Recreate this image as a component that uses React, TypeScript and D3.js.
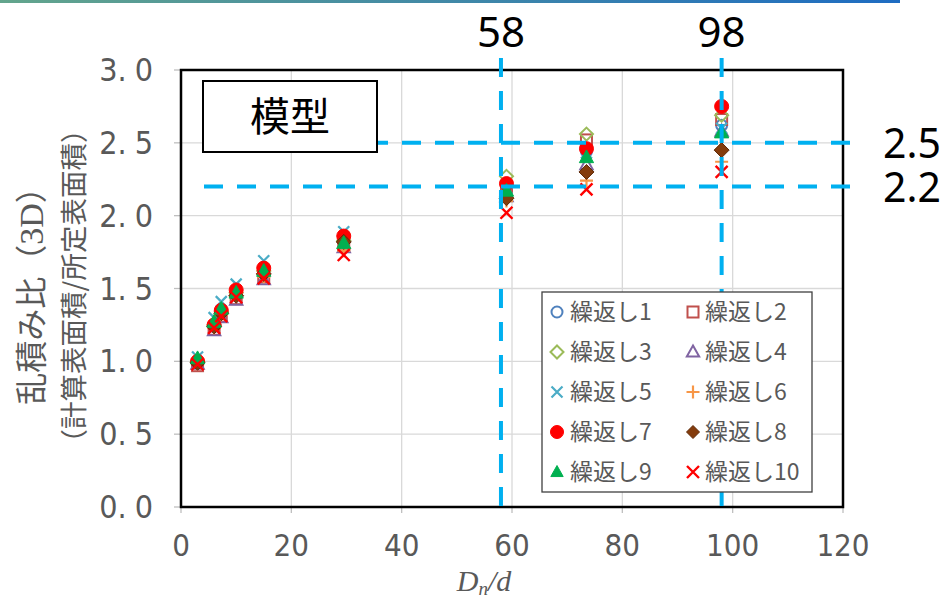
import React from "react";
import * as d3 from "d3";

// D/d ratios measured for each specimen
const dnRatios = [3, 6, 7.3, 10, 15, 29.5, 59, 73.5, 98];

const seriesNames = [
  "繰返し1", "繰返し2", "繰返し3", "繰返し4", "繰返し5",
  "繰返し6", "繰返し7", "繰返し8", "繰返し9", "繰返し10",
];

// 乱積み比 for each repetition at the ratios above
const rep1 = [1.0, 1.24, 1.33, 1.46, 1.61, 1.82, 2.16, 2.44, 2.62];
const rep2 = [0.97, 1.22, 1.31, 1.43, 1.58, 1.8, 2.2, 2.52, 2.66];
const rep3 = [1.0, 1.25, 1.34, 1.47, 1.62, 1.83, 2.27, 2.56, 2.69];
const rep4 = [0.98, 1.21, 1.3, 1.42, 1.56, 1.78, 2.13, 2.35, 2.58];
const rep5 = [1.03, 1.3, 1.41, 1.53, 1.69, 1.89, 2.19, 2.43, 2.6];
const rep6 = [0.99, 1.23, 1.32, 1.45, 1.58, 1.76, 2.1, 2.24, 2.37];
const rep7 = [1.0, 1.25, 1.35, 1.49, 1.64, 1.86, 2.22, 2.46, 2.75];
const rep8 = [0.99, 1.24, 1.33, 1.45, 1.6, 1.82, 2.12, 2.3, 2.45];
const rep9 = [1.02, 1.27, 1.36, 1.47, 1.62, 1.81, 2.17, 2.4, 2.57];
const rep10 = [0.98, 1.23, 1.31, 1.44, 1.57, 1.73, 2.02, 2.18, 2.3];

const repetitions = [rep1, rep2, rep3, rep4, rep5, rep6, rep7, rep8, rep9, rep10];

const xTicks = [0, 20, 40, 60, 80, 100, 120];
const yTicks = [0, 0.5, 1.0, 1.5, 2.0, 2.5, 3.0];

// reference lines
const markX = [58, 98];
const markY = [2.5, 2.2];

type MarkerKind = "circle" | "square" | "diamond" | "triangle" | "x" | "plus";
interface MarkerStyle {
  kind: MarkerKind;
  fill: string;
  stroke: string;
  r: number;
  sw: number;
}

const markerStyles: MarkerStyle[] = [
  { kind: "circle", fill: "none", stroke: "#4F81BD", r: 5.5, sw: 2 },
  { kind: "square", fill: "none", stroke: "#C0504D", r: 5.5, sw: 2 },
  { kind: "diamond", fill: "none", stroke: "#9BBB59", r: 6.5, sw: 2 },
  { kind: "triangle", fill: "none", stroke: "#8064A2", r: 6.5, sw: 2 },
  { kind: "x", fill: "none", stroke: "#4BACC6", r: 5.5, sw: 2.2 },
  { kind: "plus", fill: "none", stroke: "#F79646", r: 6.5, sw: 2.2 },
  { kind: "circle", fill: "#FF0000", stroke: "#FF0000", r: 7, sw: 1 },
  { kind: "diamond", fill: "#843C0C", stroke: "#5E2A08", r: 7.5, sw: 1 },
  { kind: "triangle", fill: "#00B050", stroke: "#00B050", r: 7.5, sw: 1 },
  { kind: "x", fill: "none", stroke: "#FF0000", r: 6, sw: 2.4 },
];

function Marker({ cx, cy, s }: { cx: number; cy: number; s: MarkerStyle }) {
  const r = s.r;
  const common = { fill: s.fill, stroke: s.stroke, strokeWidth: s.sw };
  switch (s.kind) {
    case "circle":
      return <circle cx={cx} cy={cy} r={r} {...common} />;
    case "square":
      return <rect x={cx - r} y={cy - r} width={2 * r} height={2 * r} {...common} />;
    case "diamond":
      return (
        <path
          d={`M${cx},${cy - r}L${cx + r},${cy}L${cx},${cy + r}L${cx - r},${cy}Z`}
          {...common}
        />
      );
    case "triangle":
      return (
        <path
          d={`M${cx},${cy - r}L${cx + r * 0.95},${cy + r * 0.7}L${cx - r * 0.95},${cy + r * 0.7}Z`}
          {...common}
        />
      );
    case "x":
      return (
        <path
          d={`M${cx - r},${cy - r}L${cx + r},${cy + r}M${cx - r},${cy + r}L${cx + r},${cy - r}`}
          fill="none"
          stroke={s.stroke}
          strokeWidth={s.sw}
        />
      );
    case "plus":
    default:
      return (
        <path
          d={`M${cx - r},${cy}H${cx + r}M${cx},${cy - r}V${cy + r}`}
          fill="none"
          stroke={s.stroke}
          strokeWidth={s.sw}
        />
      );
  }
}

const W = 951;
const H = 600;
const left = 181;
const right = 843;
const top = 70;
const bottom = 507;

const narrow = "'Liberation Sans Narrow', 'DejaVu Sans Condensed', sans-serif";
const cjk = "'Noto Sans CJK JP', 'Noto Sans', sans-serif";
const labelGray = "#595959";
const dashBlue = "#00B0F0";

export default function App() {
  const x = d3.scaleLinear().domain([0, 120]).range([left, right]);
  const y = d3.scaleLinear().domain([0, 3]).range([bottom, top]);
  const fmt = d3.format(".1f");

  return (
    <svg
      width={W}
      height={H}
      viewBox={`0 0 ${W} ${H}`}
      style={{ position: "absolute", left: 0, top: 0, background: "#fff" }}
    >
      <defs>
        <linearGradient id="topBar" x1="0" x2="1" y1="0" y2="0">
          <stop offset="0" stopColor="#63A58C" />
          <stop offset="1" stopColor="#1E6CC2" />
        </linearGradient>
      </defs>
      <rect x={0} y={0} width={900} height={3} fill="url(#topBar)" />

      {/* grid */}
      <g stroke="#D9D9D9" strokeWidth={1.3}>
        {xTicks.slice(1, -1).map((t) => (
          <line key={`gx${t}`} x1={x(t)} x2={x(t)} y1={top} y2={bottom} />
        ))}
        {yTicks.slice(1, -1).map((t) => (
          <line key={`gy${t}`} x1={left} x2={right} y1={y(t)} y2={y(t)} />
        ))}
      </g>

      {/* tick marks */}
      <g stroke="#BFBFBF" strokeWidth={1.3}>
        {xTicks.map((t) => (
          <line key={`tx${t}`} x1={x(t)} x2={x(t)} y1={bottom} y2={bottom + 6} />
        ))}
        {yTicks.map((t) => (
          <line key={`ty${t}`} x1={left - 7} x2={left} y1={y(t)} y2={y(t)} />
        ))}
      </g>

      {/* tick labels */}
      <g fill={labelGray} fontFamily={narrow}>
        {xTicks.map((t) => (
          <text key={`lx${t}`} x={x(t)} y={556} fontSize={31} textAnchor="middle">
            {t}
          </text>
        ))}
        {yTicks.map((t) => {
          const [a, b] = fmt(t).split(".");
          return (
            <text key={`ly${t}`} x={153} y={y(t) + 11} fontSize={32} textAnchor="end">
              <tspan>{a}.</tspan>
              <tspan dx={8}>{b}</tspan>
            </text>
          );
        })}
      </g>

      {/* axis titles */}
      <text
        transform={`translate(${x(60) - 28},591)`}
        fontFamily="'Liberation Serif', 'DejaVu Serif', serif"
        fontStyle="italic"
        fontSize={30}
        fill={labelGray}
        textAnchor="middle"
      >
        D<tspan fontSize={19} dy={4}>n</tspan>
        <tspan dy={-4}>/d</tspan>
      </text>
      <text
        transform="translate(43,288) rotate(-90)"
        fontFamily={cjk}
        fontSize={32}
        fill={labelGray}
        textAnchor="middle"
      >
        乱積み比（<tspan fontFamily="'Liberation Serif', serif" fontSize={34}>3D</tspan>）
      </text>
      <text
        transform="translate(84,286) rotate(-90)"
        fontFamily={cjk}
        fontSize={27.5}
        fill={labelGray}
        textAnchor="middle"
      >
        （計算表面積/所定表面積）
      </text>

      {/* data points */}
      <g>
        {repetitions.map((vals, si) =>
          vals.map((v, i) => (
            <Marker key={`p${si}-${i}`} cx={x(dnRatios[i])} cy={y(v)} s={markerStyles[si]} />
          ))
        )}
      </g>

      {/* plot frame */}
      <rect
        x={left}
        y={top}
        width={right - left}
        height={bottom - top}
        fill="none"
        stroke="#000"
        strokeWidth={2.5}
      />

      {/* reference lines */}
      <g stroke={dashBlue} strokeWidth={4} strokeDasharray="19 14" fill="none">
        {markX.map((v) => (
          <line key={`mx${v}`} x1={x(v)} x2={x(v)} y1={58} y2={510} />
        ))}
        {markY.map((v) => (
          <line key={`my${v}`} x1={204} x2={862} y1={y(v)} y2={y(v)} />
        ))}
      </g>
      <g fontFamily="'Noto Sans', 'DejaVu Sans', sans-serif" fill="#000">
        {markX.map((v) => (
          <text key={`tmx${v}`} x={x(v)} y={47} fontSize={42} textAnchor="middle">
            {v}
          </text>
        ))}
        {markY.map((v) => (
          <text key={`tmy${v}`} x={883} y={y(v) + 15} fontSize={41}>
            {fmt(v)}
          </text>
        ))}
      </g>

      {/* label box */}
      <rect x={203} y={81} width={174} height={71} fill="#fff" stroke="#000" strokeWidth={2} />
      <text x={290} y={131} fontFamily={cjk} fontSize={40} textAnchor="middle" fill="#000">
        模型
      </text>

      {/* legend */}
      <rect x={542} y={292} width={270} height={200} fill="#fff" stroke="#404040" strokeWidth={1.3} />
      {seriesNames.map((name, si) => {
        const col = si % 2;
        const row = Math.floor(si / 2);
        const cy = 312 + row * 40;
        const mx = col === 0 ? 557 : 693;
        const tx = col === 0 ? 570 : 705;
        const st = markerStyles[si];
        return (
          <g key={`lg${si}`}>
            <Marker cx={mx} cy={cy} s={{ ...st, r: Math.min(st.r, 6.5) }} />
            <text x={tx} y={cy + 8} fontFamily={cjk} fontSize={23} fill={labelGray}>
              {name}
            </text>
          </g>
        );
      })}
    </svg>
  );
}
